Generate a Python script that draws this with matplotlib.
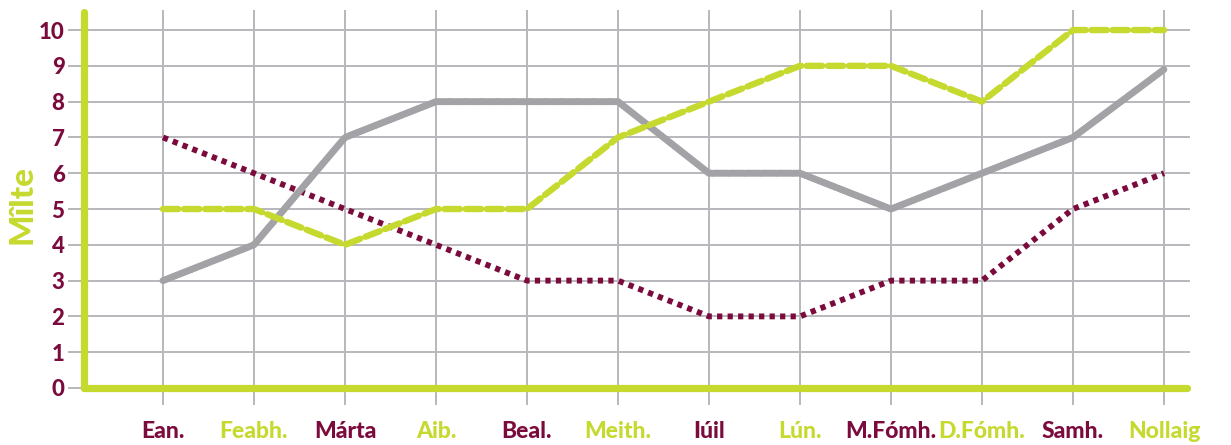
import matplotlib
matplotlib.use("Agg")
import matplotlib.pyplot as plt

# data
months = ['Ean.', 'Feabh.', 'Márta', 'Aib.', 'Beal.', 'Meith.',
          'Iúil', 'Lún.', 'M.Fómh.', 'D.Fómh.', 'Samh.', 'Nollaig']
maroon_vals = [7, 6, 5, 4, 3, 3, 2, 2, 3, 3, 5, 6]
green_vals = [5, 5, 4, 5, 5, 7, 8, 9, 9, 8, 10, 10]
gray_vals = [3, 4, 7, 8, 8, 8, 6, 6, 5, 6, 7, 8.9]
y_ticks = list(range(0, 11))
y_label = 'Mîlte'

MAROON = '#7b0b3d'
GREEN = '#c5d92e'
GRAY = '#a3a3a7'
GRID = '#b8b8bc'

plt.rcParams['font.family'] = ['Lato', 'DejaVu Sans']

W, H = 1231, 445
fig = plt.figure(figsize=(W / 100, H / 100), dpi=100)
# axes box in pixels: x 68..1190, y 10..405
ax = fig.add_axes([68 / W, 1 - 405 / H, (1190 - 68) / W, (405 - 10) / H])

x = list(range(len(months)))
ax.set_xlim(-1.044, 11.286)
ax.set_ylim(-0.475, 10.56)

ax.grid(True, color=GRID, lw=1.4, zorder=0)
ax.set_axisbelow(True)

ax.plot(x, maroon_vals, color=MAROON, lw=4.2, ls=(0, (0.9, 0.9)),
        dash_capstyle='butt', zorder=3)
ax.plot(x, gray_vals, color=GRAY, lw=5.0, ls=(0, (2.0, 0.3)),
        dash_capstyle='round', zorder=3)
ax.plot(x, green_vals, color=GREEN, lw=4.6, ls=(0, (2.4, 0.9)),
        dash_capstyle='round', zorder=4)

for s in ['top', 'right']:
    ax.spines[s].set_visible(False)
ax.spines['left'].set_position(('data', -0.868))
ax.spines['bottom'].set_position(('data', 0))
ax.spines['left'].set_bounds(0, 10.5)
ax.spines['bottom'].set_bounds(-0.868, 11.25)
for s in ['left', 'bottom']:
    ax.spines[s].set_color(GREEN)
    ax.spines[s].set_linewidth(5.2)
    ax.spines[s].set_capstyle('round')
    ax.spines[s].set_zorder(5)

ax.set_yticks(y_ticks)
ax.set_yticklabels([str(v) for v in y_ticks], color=MAROON,
                   fontsize=16, fontweight='black')
ax.set_xticks(x)
ax.set_xticklabels(months, fontsize=16.5, fontweight='black')
for i, lab in enumerate(ax.get_xticklabels()):
    lab.set_color(MAROON if i % 2 == 0 else GREEN)
# y labels: left of the axes box (spine moved, so offset from spine)
ax.tick_params(axis='y', length=0, pad=14)
# x labels: spine sits at 0, labels well below it
ax.tick_params(axis='x', length=0, pad=24)

fig.text(22 / W, 1 - 205 / H, y_label, rotation=90, color=GREEN,
         fontsize=24, fontweight='black', ha='center', va='center')

fig.savefig('out.png', dpi=100)
